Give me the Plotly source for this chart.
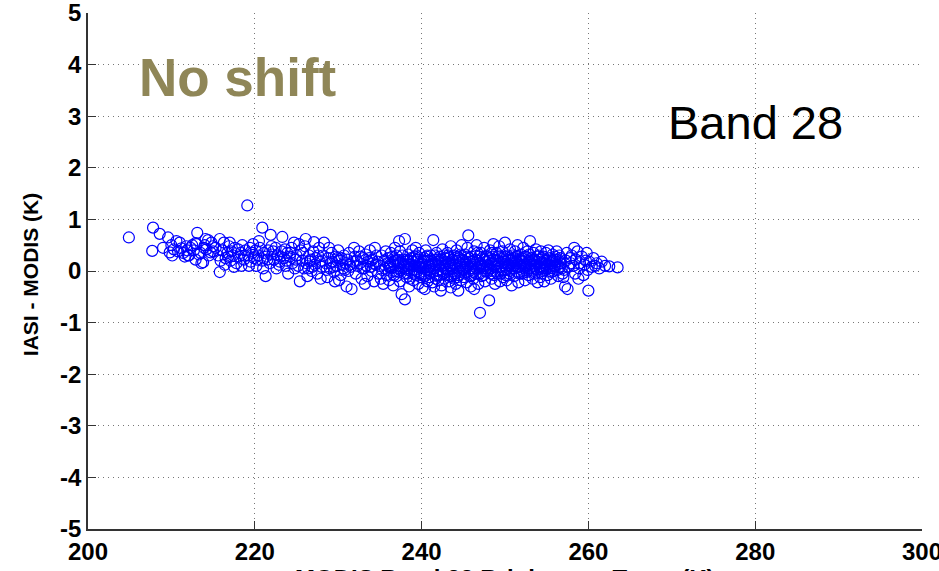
import plotly.graph_objects as go

# Hand-estimated (MODIS Tb [K], IASI - MODIS [K]) points, grouped by x region
pts_205_215 = [(204.9,0.65),(207.8,0.84),(208.6,0.72),(207.7,0.39),(209.0,0.45),(209.6,0.65),
    (209.8,0.36),(210.0,0.50),(210.3,0.42),(210.6,0.58),(210.8,0.38),(211.0,0.55),(211.2,0.44),
    (211.4,0.35),(211.6,0.28),(211.8,0.48),(211.9,0.40),(212.0,0.30),(212.1,0.30),(212.3,0.45),
    (212.5,0.50),(212.7,0.40),(212.9,0.22),(213.0,0.52),(213.1,0.74),(213.3,0.32),(213.5,0.35),
    (213.6,0.15),(213.8,0.17),(213.9,0.45),(214.0,0.50),(214.1,0.62),(214.2,0.42),(214.4,0.60),
    (214.5,0.30),(214.7,0.36),(214.8,0.55),(215.0,0.38),(215.0,0.48),(210.1,0.30),(212.9,0.54)]

pts_215_225 = [(215.3,0.45),(215.6,0.30),(215.8,0.62),(215.8,-0.02),(216.1,0.40),(216.3,0.55),
    (216.5,0.25),(216.7,0.35),(216.9,0.48),(217.1,0.20),(217.2,0.38),(217.4,0.30),(217.6,0.45),
    (217.8,0.15),(218.0,0.42),(218.1,0.28),(218.3,0.35),(218.5,0.50),(218.7,0.22),(218.9,0.40),
    (219.1,1.27),(219.2,0.30),(219.4,0.45),(219.5,0.18),(219.7,0.35),(219.9,0.25),(220.1,0.40),
    (220.2,0.10),(220.4,0.30),(220.6,0.45),(220.9,0.84),(220.9,0.20),(221.1,0.35),(221.3,-0.10),
    (221.4,0.28),(221.6,0.40),(221.8,0.15),(221.9,0.70),(222.1,0.32),(222.3,0.22),(222.5,0.45),
    (222.6,0.05),(222.8,0.30),(223.0,0.18),(223.2,0.38),(223.3,0.66),(223.5,0.25),(223.7,0.10),
    (223.9,0.35),(224.0,-0.05),(224.2,0.28),(224.4,0.45),(224.5,0.15),(224.7,0.55),(224.9,0.22),
    (215.9,0.20),(217.0,0.55),(218.4,0.10),(219.8,0.52),(221.0,0.05),(222.0,0.48),(223.6,0.42),
    (224.8,0.05),(216.4,0.12),(220.5,0.58),(222.9,0.12),(216.8,0.28),(218.8,0.30),(220.3,0.22),
    (222.2,0.38),(223.8,0.20),(217.5,0.08),(219.3,0.10),(221.5,0.22),(223.1,0.28),(224.3,0.35)]

pts_225_235 = [(225.0,0.30),(225.2,0.10),(225.4,-0.20),(225.5,0.40),(225.7,0.20),(225.9,0.05),
    (226.0,0.48),(226.2,0.15),(226.3,-0.10),(226.5,0.30),(226.7,0.22),(226.8,0.00),(227.0,0.38),
    (227.2,0.12),(227.3,0.25),(227.5,-0.05),(227.7,0.45),(227.8,0.18),(228.0,0.08),(228.2,0.30),
    (228.3,0.55),(228.5,0.15),(228.7,-0.12),(228.8,0.25),(229.0,0.05),(229.2,0.35),(229.3,0.18),
    (229.5,-0.02),(229.7,0.28),(229.8,0.10),(230.0,0.40),(230.2,0.20),(230.3,-0.08),(230.5,0.12),
    (230.7,0.30),(230.8,0.02),(231.0,-0.30),(231.1,0.22),(231.3,0.35),(231.5,0.08),(231.6,-0.35),
    (231.8,0.18),(232.0,0.28),(232.1,-0.05),(232.3,0.10),(232.5,0.38),(232.6,0.15),(232.8,-0.15),
    (233.0,0.25),(233.1,0.05),(233.3,0.32),(233.5,-0.10),(233.6,0.18),(233.8,0.40),(234.0,0.00),
    (234.1,0.22),(234.3,-0.20),(234.5,0.12),(234.6,0.30),(234.8,-0.05),(225.3,0.52),(226.1,0.62),
    (227.1,0.56),(228.9,0.45),(230.1,-0.18),(231.9,0.45),(233.2,-0.25),(234.4,0.45),(225.8,0.35),
    (226.9,0.08),(228.1,0.20),(229.1,0.15),(229.9,0.25),(230.9,0.15),(232.2,0.20),(233.4,0.10),
    (234.2,0.15),(227.9,-0.15),(229.6,-0.20),(232.9,0.05),(231.2,0.00),(226.4,0.05),(227.6,0.30),
    (228.6,0.02),(230.4,0.25),(231.4,0.12),(232.7,0.28),(233.9,0.08),(234.7,0.18),(229.4,0.08),
    (226.6,0.18),(230.6,0.05),(233.7,0.25)]

pts_235_247 = [
    (235.0,0.10),(235.1,-0.15),(235.2,0.30),(235.3,0.02),(235.4,-0.25),(235.5,0.20),(235.6,0.05),(235.7,0.38),(235.8,-0.08),(235.9,0.15),
    (236.0,0.25),(236.1,-0.18),(236.2,0.08),(236.3,0.35),(236.4,-0.02),(236.5,0.18),(236.6,-0.28),(236.7,0.12),(236.8,0.45),(236.9,0.00),(236.5,0.28),
    (237.0,-0.10),(237.1,0.22),(237.2,0.05),(237.3,0.58),(237.4,-0.20),(237.5,0.15),(237.6,-0.45),(237.7,0.30),(237.8,0.08),(237.9,-0.05),(237.4,0.38),
    (238.0,0.62),(238.0,-0.55),(238.1,0.18),(238.2,-0.12),(238.3,0.02),(238.4,0.32),(238.5,-0.30),(238.6,0.12),(238.7,0.25),(238.8,-0.02),(238.9,0.40),(238.5,0.05),
    (239.0,-0.18),(239.1,0.10),(239.2,0.28),(239.3,-0.08),(239.4,0.18),(239.5,0.00),(239.6,-0.25),(239.7,0.35),(239.8,0.08),(239.9,-0.12),(239.3,0.45),
    (240.0,0.15),(240.1,-0.32),(240.2,0.05),(240.3,0.25),(240.4,-0.10),(240.5,0.40),(240.6,0.02),(240.7,-0.20),(240.8,0.20),(240.9,0.10),(240.4,-0.35),
    (241.0,-0.05),(241.1,0.30),(241.2,0.12),(241.3,-0.22),(241.4,0.60),(241.5,0.05),(241.6,0.22),(241.7,-0.15),(241.8,0.35),(241.9,0.00),(241.5,-0.30),
    (242.0,0.18),(242.1,-0.08),(242.2,0.28),(242.3,0.02),(242.4,-0.28),(242.5,0.42),(242.6,0.10),(242.7,-0.15),(242.8,0.25),(242.9,0.05),(242.3,-0.38),
    (243.0,-0.02),(243.1,0.35),(243.2,0.15),(243.3,-0.20),(243.4,0.08),(243.5,0.48),(243.6,-0.10),(243.7,0.22),(243.8,0.00),(243.9,0.30),(243.5,-0.32),
    (244.0,0.12),(244.1,-0.25),(244.2,0.40),(244.3,0.05),(244.4,-0.08),(244.5,0.25),(244.6,0.15),(244.7,-0.18),(244.8,0.50),(244.9,0.02),(244.4,-0.38),
    (245.0,0.20),(245.1,-0.12),(245.2,0.32),(245.3,0.08),(245.4,-0.22),(245.5,0.45),(245.6,0.69),(245.7,0.00),(245.8,0.18),(245.9,-0.30),(245.5,0.12),
    (246.0,0.28),(246.1,0.05),(246.2,-0.15),(246.3,0.38),(246.4,0.12),(246.5,-0.05),(246.6,0.50),(246.7,0.20),(246.8,-0.25),(246.9,0.10),(246.3,-0.35)]

pts_247_258 = [
    (247.0,-0.81),(247.0,0.15),(247.1,0.35),(247.2,-0.10),(247.3,0.25),(247.4,0.05),(247.5,0.45),(247.6,-0.20),(247.7,0.18),(247.8,0.30),(247.9,-0.02),
    (248.0,0.12),(248.1,-0.57),(248.2,0.40),(248.3,0.05),(248.4,-0.15),(248.5,0.28),(248.6,0.52),(248.7,0.08),(248.8,-0.25),(248.9,0.20),(248.5,0.00),
    (249.0,0.35),(249.1,-0.05),(249.2,0.15),(249.3,0.48),(249.4,-0.20),(249.5,0.25),(249.6,0.02),(249.7,0.38),(249.8,-0.12),(249.9,0.18),
    (250.0,0.55),(250.1,0.08),(250.2,-0.18),(250.3,0.30),(250.4,0.12),(250.5,-0.05),(250.6,0.42),(250.7,0.20),(250.8,-0.28),(250.9,0.05),
    (251.0,0.25),(251.1,-0.10),(251.2,0.38),(251.3,0.15),(251.4,0.00),(251.5,0.50),(251.6,-0.22),(251.7,0.22),(251.8,0.08),(251.9,0.32),
    (252.0,-0.05),(252.1,0.18),(252.2,0.45),(252.3,0.05),(252.4,-0.18),(252.5,0.28),(252.6,0.12),(252.7,0.38),(252.8,-0.08),(252.9,0.20),
    (253.0,0.58),(253.1,0.02),(253.2,0.25),(253.3,-0.15),(253.4,0.35),(253.5,0.10),(253.6,-0.05),(253.7,0.42),(253.8,0.18),(253.9,-0.22),
    (254.0,0.30),(254.1,0.08),(254.2,-0.12),(254.3,0.38),(254.4,0.15),(254.5,0.00),(254.6,0.28),(254.7,-0.20),(254.8,0.10),(254.9,0.35),
    (255.0,0.20),(255.1,-0.08),(255.2,0.40),(255.3,0.05),(255.4,0.25),(255.5,-0.15),(255.6,0.15),(255.7,0.32),(255.8,0.00),(255.9,0.22),
    (256.0,0.10),(256.2,0.38),(256.4,-0.10),(256.6,0.25),(256.8,0.05),(256.1,0.18),(256.5,0.30),(256.9,-0.05),(256.3,0.12),
    (257.0,-0.12),(257.2,-0.30),(257.4,0.35),(257.5,-0.35),(257.6,0.08),(257.8,0.25),(257.1,0.02),(257.9,0.15),(257.3,0.20)]

# extra points filling the dense core (236-257 K)
pts_core = [
    (236.2,0.12),(236.7,-0.08),(237.0,0.30),(237.5,0.02),(237.8,0.22),(238.2,0.10),(238.6,-0.15),(238.9,0.18),
    (239.2,0.02),(239.5,0.22),(239.8,-0.02),(240.1,0.12),(240.3,-0.05),(240.6,0.28),(240.9,-0.12),(241.2,0.20),
    (241.4,-0.02),(241.7,0.12),(242.0,-0.18),(242.2,0.15),(242.5,0.00),(242.8,0.12),(243.1,-0.08),(243.3,0.25),
    (243.6,0.10),(243.9,-0.15),(244.2,0.20),(244.5,-0.02),(244.7,0.32),(245.0,0.05),(245.2,-0.05),(245.5,0.28),
    (245.8,-0.10),(246.1,0.18),(246.4,0.00),(246.7,0.35),(247.0,-0.05),(247.2,0.12),(247.5,0.22),(247.8,0.05),
    (248.1,0.20),(248.4,0.35),(248.7,-0.08),(249.0,0.08),(249.2,0.30),(249.5,-0.05),(249.8,0.25),(250.1,-0.08),
    (250.3,0.15),(250.6,0.00),(250.9,0.30),(251.2,0.05),(251.4,0.18),(251.7,-0.05),(252.0,0.25),(252.3,0.15),
    (252.6,-0.02),(252.9,0.32),(253.2,0.08),(253.5,0.22),(253.8,0.02),(254.1,0.22),(254.4,-0.05),(254.7,0.15),
    (255.0,0.05),(255.3,0.18),(255.6,-0.02),(255.9,0.10),(256.2,0.22),(256.6,0.08),(236.9,0.20),(238.3,-0.05),
    (239.6,0.08),(240.8,0.02),(241.9,0.22),(243.2,0.02),(244.3,0.28),(245.3,0.18),(246.5,0.22),(247.6,0.00),
    (248.8,0.12),(249.9,0.02),(250.8,0.15),(251.9,0.12),(253.0,0.15),(254.2,0.05),(255.4,0.10),(256.7,0.15),
    (237.3,-0.02),(239.0,0.25),(240.4,0.18),(242.7,0.30),(244.0,-0.05),(246.2,-0.02),(248.2,0.25),(250.5,0.25),
    (252.4,0.08),(254.6,0.05),(236.4,0.05),(241.0,0.08),(243.7,0.05),(245.9,0.05),(248.3,-0.05),(251.1,0.18),
    (253.4,0.00),(255.7,0.05)]

pts_core_2 = [
    (238.1,0.05),(238.4,0.20),(238.8,0.12),(239.1,-0.05),(239.4,0.30),(239.7,0.15),(240.0,-0.08),(240.2,0.20),
    (240.5,0.08),(240.7,0.30),(241.1,0.00),(241.3,0.15),(241.6,0.30),(241.8,-0.08),(242.1,0.10),(242.4,0.22),
    (242.6,-0.05),(242.9,0.18),(243.2,0.30),(243.4,-0.10),(243.7,0.15),(244.0,0.25),(244.3,-0.12),(244.6,0.08),
    (244.9,0.22),(245.1,0.02),(245.4,0.12),(245.7,0.25),(246.0,-0.08),(246.3,0.15),(246.6,0.05),(246.9,0.28),
    (247.1,0.08),(247.4,-0.08),(247.7,0.28),(248.0,0.02),(248.3,0.15),(248.6,0.22),(248.9,0.00),(249.1,0.20),
    (249.4,0.08),(249.7,0.15),(250.0,0.28),(250.2,0.02),(250.5,0.10),(250.8,0.22),(251.0,0.10),(251.3,0.28),
    (251.6,0.08),(251.9,0.20),(252.1,0.00),(252.4,0.28),(252.7,0.15),(253.0,0.05),(253.3,0.20),(253.6,0.12),
    (253.9,0.28),(254.2,0.15),(254.5,0.25),(254.8,0.02),(255.1,0.12),(255.4,0.00),(255.7,0.20),(256.0,0.28),
    (256.3,0.02),(256.6,0.15),(237.2,0.15),(237.9,0.12),(236.8,0.20),(236.1,0.08)]

pts_258_264 = [(258.0,0.30),(258.2,0.10),(258.4,-0.05),(258.5,0.22),(258.7,0.38),(258.9,0.05),
    (259.0,0.15),(259.2,0.28),(259.4,-0.08),(259.5,0.12),(259.7,0.20),(259.9,0.02),(260.1,0.18),
    (260.0,-0.38),(260.4,0.08),(260.6,0.25),(260.8,0.10),(261.0,0.15),(261.3,0.05),(261.6,0.18),
    (262.0,0.10),(262.5,0.09),(263.5,0.07),(258.3,0.45),(259.8,0.35),(258.8,-0.15)]

x_ticks = [200, 220, 240, 260, 280, 300]
y_ticks = [-5, -4, -3, -2, -1, 0, 1, 2, 3, 4, 5]

all_pts = (pts_205_215 + pts_215_225 + pts_225_235 + pts_235_247 + pts_247_258
           + pts_core + pts_core_2 + pts_258_264)
x_vals = [p[0] for p in all_pts]
y_vals = [p[1] for p in all_pts]

FONT = "Liberation Sans, Arial, Helvetica, sans-serif"

fig = go.Figure()
fig.add_trace(go.Scatter(
    x=x_vals, y=y_vals, mode="markers",
    marker=dict(symbol="circle-open", size=11, color="#0000ff", line=dict(width=1.2, color="#0000ff")),
    showlegend=False,
))

axis_common = dict(
    showline=True, linecolor="#333333", linewidth=1.5,
    ticks="inside", ticklen=8, tickcolor="#333333", tickwidth=1,
    showgrid=True, gridcolor="#777777", gridwidth=1, griddash="1px,4px",
    zeroline=False, mirror=False, ticklabeloverflow="allow",
    tickfont=dict(family=FONT, size=24, color="black"),
)

fig.update_xaxes(range=[200, 300], tickvals=x_ticks, ticktext=["<b>%d</b>" % v for v in x_ticks],
                 **axis_common)
fig.update_yaxes(range=[-5, 5], tickvals=y_ticks, ticktext=["<b>%d</b>" % v for v in y_ticks],
                 **axis_common)

# axis titles as annotations so they can sit where the reference puts them
fig.add_annotation(x=0.5, y=-0.066, xref="paper", yref="paper", xanchor="center", yanchor="top",
                   text="<b>MODIS Band 28 Brightness Temp (K)</b>", showarrow=False,
                   font=dict(family=FONT, size=24, color="black"))
fig.add_annotation(x=-0.0695, y=0.492, xref="paper", yref="paper", xanchor="center", yanchor="middle",
                   text="<b>IASI - MODIS (K)</b>", showarrow=False, textangle=-90,
                   font=dict(family=FONT, size=21, color="black"))

fig.add_annotation(x=0.059, y=0.875, xref="paper", yref="paper", xanchor="left", yanchor="middle",
                   text="<b>No shift</b>", showarrow=False,
                   font=dict(family=FONT, size=53, color="#8f8657"))
fig.add_annotation(x=0.693, y=0.787, xref="paper", yref="paper", xanchor="left", yanchor="middle",
                   text="Band 28", showarrow=False,
                   font=dict(family=FONT, size=47, color="black"))

fig.update_layout(
    width=939, height=571,
    margin=dict(l=88, r=17, t=13, b=42, autoexpand=False),
    plot_bgcolor="white", paper_bgcolor="white",
)

fig.write_html("out.html")
